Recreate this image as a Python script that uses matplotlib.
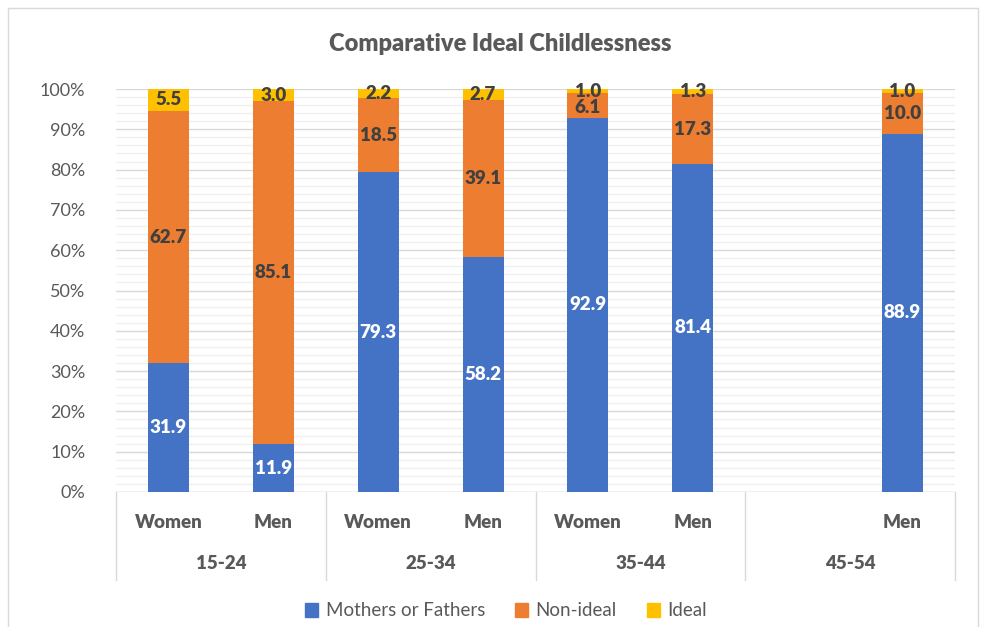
import numpy as np
import matplotlib.pyplot as plt
from matplotlib.lines import Line2D
from matplotlib.patches import Patch, Rectangle

plt.rcParams['font.family'] = ['Lato', 'DejaVu Sans']

groups = ['15-24', '25-34', '35-44', '45-54']
sexes = ['Women', 'Men', 'Women', 'Men', 'Women', 'Men', '', 'Men']
parents = [31.9, 11.9, 79.3, 58.2, 92.9, 81.4, np.nan, 88.9]
non_ideal = [62.7, 85.1, 18.5, 39.1, 6.1, 17.3, np.nan, 10.0]
ideal = [5.5, 3.0, 2.2, 2.7, 1.0, 1.3, np.nan, 1.0]

blue = '#4472c4'
orange = '#ed7d31'
yellow = '#ffc000'
txt = '#595959'
dark = '#404040'

fig = plt.figure(figsize=(9.82, 6.27), dpi=100)
W, H = 982, 627
ax = fig.add_axes([116 / W, (H - 492) / H, (955 - 116) / W, (492 - 89) / H])

x = np.arange(len(sexes))
p = np.array(parents)
n = np.array(non_ideal)
i = np.array(ideal)
bw = 0.39
ax.bar(x, p, bw, color=blue, zorder=3)
ax.bar(x, n, bw, bottom=p, color=orange, zorder=3)
ax.bar(x, i, bw, bottom=p + n, color=yellow, zorder=3)

for k in range(len(x)):
    if np.isnan(p[k]):
        continue
    ax.text(x[k], p[k] / 2, f'{p[k]:.1f}', ha='center', va='center',
            color='white', fontsize=13.5, fontweight='heavy', zorder=4)
    mid = p[k] + n[k] / 2
    if n[k] < 8:
        mid -= 0.6
    ax.text(x[k], mid, f'{n[k]:.1f}', ha='center', va='center',
            color=dark, fontsize=13.5, fontweight='heavy', zorder=4)
    top = min(p[k] + n[k] + i[k] / 2, 99.4)
    ax.text(x[k], top, f'{i[k]:.1f}', ha='center', va='center',
            color=dark, fontsize=13.5, fontweight='heavy', zorder=4)

ax.set_xlim(-0.5, len(x) - 0.5)
ax.set_ylim(0, 100)
ax.set_yticks(np.arange(0, 101, 10))
ax.set_yticklabels([f'{v}%' for v in range(0, 101, 10)])
ax.set_yticks(np.arange(0, 101, 2), minor=True)
ax.tick_params(axis='y', which='both', length=0, labelsize=13, labelcolor=txt, pad=22)
ax.set_xticks([])
ax.grid(axis='y', which='major', color='#d9d9d9', lw=1, zorder=0)
ax.grid(axis='y', which='minor', color='#f0f0f0', lw=1, zorder=0)
for s in ax.spines.values():
    s.set_visible(False)

# two-level category axis drawn below the plot
ax.axhline(0, color='#d9d9d9', lw=1, zorder=2)
for b in [-0.5, 1.5, 3.5, 5.5, 7.5]:
    ax.add_line(Line2D([b, b], [0, -21.8], color='#d9d9d9', lw=1, clip_on=False))
for k, s in enumerate(sexes):
    ax.text(x[k], -7.5, s, ha='center', va='center', color=txt,
            fontsize=13.5, fontweight='heavy', clip_on=False)
for g, lab in enumerate(groups):
    ax.text(2 * g + 0.5, -17.8, lab, ha='center', va='center', color=txt,
            fontsize=13.5, fontweight='heavy', clip_on=False)

fig.text(500 / W, 1 - 44 / H, 'Comparative Ideal Childlessness', ha='center', va='center',
         fontsize=17, fontweight='heavy', color=txt)

handles = [Patch(color=blue), Patch(color=orange), Patch(color=yellow)]
fig.legend(handles, ['Mothers or Fathers', 'Non-ideal', 'Ideal'], loc='center',
           bbox_to_anchor=(506 / W, 1 - 611 / H), ncol=3, frameon=False,
           fontsize=13.5, labelcolor=txt, handlelength=0.7, handleheight=0.7,
           handletextpad=0.4, columnspacing=1.6)

fig.patches.append(Rectangle((8 / W, -0.1), (978 - 8) / W, 1.1 - 8 / H,
                             transform=fig.transFigure, fill=False,
                             edgecolor='#d9d9d9', lw=1))

fig.savefig('out.png', dpi=100)
